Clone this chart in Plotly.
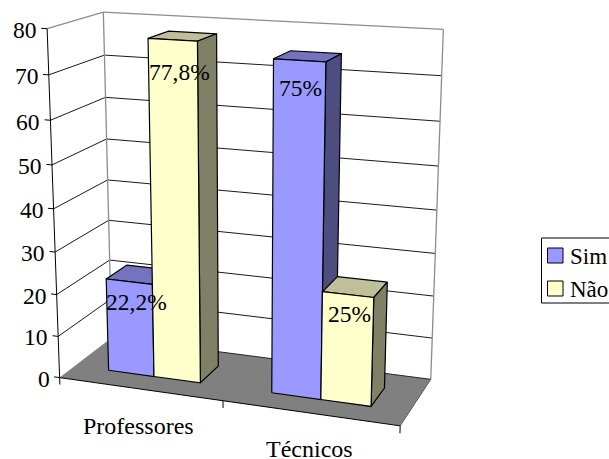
import numpy as np
import plotly.graph_objects as go

categories = ["Professores", "Técnicos"]
series_names = ["Sim", "Não"]
sim_values = [22.2, 75.0]
nao_values = [77.8, 25.0]
sim_labels = ["22,2%", "75%"]
nao_labels = ["77,8%", "25%"]
tick_values = [0, 10, 20, 30, 40, 50, 60, 70, 80]

WIDTH, HEIGHT = 609, 459
Z_MAX = 80

# Perspective camera for the 3-D column chart (rotation about 20 deg, elevation about 15 deg)
EYE = np.array([1.8614, -3.55323, 1.57708])
YAW, PITCH = 0.35014, 0.27222
FOCAL, CX, CY = 1487.49, 244.82, 220.27
DEPTH_SCALE = 0.35092

# Column layout inside each category slot and inside the floor depth
BAR_WIDTH = 0.286
FRONT, BACK = 0.2865, 0.6892

SIM_COLORS = ("#9999FF", "#7373BF", "#4D4D80")
NAO_COLORS = ("#FFFFCC", "#BFBF99", "#808066")
FLOOR_COLOR = "#808080"
WALL_EDGE = "#8C8C8C"
FONT = "Liberation Serif"
FONT_SIZE = 23.5

_n = np.array([-np.sin(YAW) * np.cos(PITCH), np.cos(YAW) * np.cos(PITCH), -np.sin(PITCH)])
_r = np.array([np.cos(YAW), np.sin(YAW), 0.0])
_t = np.cross(_r, _n)


def proj(x, y, z):
    """Project chart coordinates (category slot, depth, value) to the drawing plane."""
    p = np.array([x / 2, y * DEPTH_SCALE, z / Z_MAX]) - EYE
    d = p @ _n
    return CX + FOCAL * (p @ _r) / d, CY - FOCAL * (p @ _t) / d


fig = go.Figure()


def polygon(points, fill, edge=None, width=1.0):
    pts = [proj(*q) for q in points] + [proj(*points[0])]
    fig.add_trace(go.Scatter(
        x=[a for a, _ in pts], y=[b for _, b in pts], mode="lines", fill="toself", fillcolor=fill,
        line=dict(color=edge if edge else fill, width=width if edge else 0),
        hoverinfo="skip", showlegend=False))


def segments(pairs, color, width=1.0):
    xs, ys = [], []
    for a, b in pairs:
        pa, pb = proj(*a), proj(*b)
        xs += [pa[0], pb[0], None]
        ys += [pa[1], pb[1], None]
    fig.add_trace(go.Scatter(x=xs, y=ys, mode="lines", line=dict(color=color, width=width),
                             hoverinfo="skip", showlegend=False))


# Floor
polygon([(0, 0, 0), (2, 0, 0), (2, 1, 0), (0, 1, 0)], FLOOR_COLOR)

# Gridlines across the side and back walls
grid = []
for v in tick_values[1:-1]:
    grid += [((0, 0, v), (0, 1, v)), ((0, 1, v), (2, 1, v))]
segments(grid, "#1A1A1A", 1.0)
segments([((0, 0, Z_MAX), (0, 1, Z_MAX)), ((0, 1, Z_MAX), (2, 1, Z_MAX)),
          ((0, 1, 0), (0, 1, Z_MAX)), ((2, 1, 0), (2, 1, Z_MAX))], WALL_EDGE, 1.3)
segments([((0, 1, 0), (2, 1, 0))], "#262626", 1.0)
segments([((2, 0, 0), (2, 1, 0))], "#595959", 1.0)

# Axis lines and tick marks
axis = [((0, 0, 0), (0, 0, Z_MAX)), ((0, 0, 0), (2, 0, 0))]
axis += [((-0.035, 0, v), (0, 0, v)) for v in tick_values]
axis += [((t, 0, -1.7), (t, 0, 0)) for t in range(len(categories) + 1)]
segments(axis, "#000000", 1.0)


def column(x0, x1, h, colors):
    polygon([(x0, FRONT, h), (x1, FRONT, h), (x1, BACK, h), (x0, BACK, h)], colors[1], "#000000", 1.2)
    polygon([(x1, FRONT, 0), (x1, BACK, 0), (x1, BACK, h), (x1, FRONT, h)], colors[2], "#000000", 1.2)
    polygon([(x0, FRONT, 0), (x1, FRONT, 0), (x1, FRONT, h), (x0, FRONT, h)], colors[0], "#000000", 1.2)


for i in range(len(categories)):
    mid = i + 0.5
    column(mid - BAR_WIDTH, mid, sim_values[i], SIM_COLORS)
    column(mid, mid + BAR_WIDTH, nao_values[i], NAO_COLORS)


def text(x, y, s, size=FONT_SIZE, **kw):
    return dict(x=x, y=y, text=s, showarrow=False, xref="x", yref="y",
                font=dict(family=FONT, size=size, color="#000000"), **kw)


ann = []
for v in tick_values:
    px, py = proj(-0.05, 0, v)
    ann.append(text(px, py + 2, str(v), xanchor="right", yanchor="middle"))

cat_shift = [(-1, 37), (0, 36)]
for i, cat in enumerate(categories):
    px, py = proj(i + 0.5, 0, 0)
    ann.append(text(px + cat_shift[i][0], py + cat_shift[i][1], cat, size=24,
                    xanchor="center", yanchor="middle", height=20))

label_shift = {"sim": [(7, 20), (1, 28)], "nao": [(7, 32), (2, 19)]}
for i in range(len(categories)):
    mid = i + 0.5
    px, py = proj(mid - BAR_WIDTH / 2, FRONT, sim_values[i])
    dx, dy = label_shift["sim"][i]
    ann.append(text(px + dx, py + dy, sim_labels[i], xanchor="center", yanchor="middle"))
    px, py = proj(mid + BAR_WIDTH / 2, FRONT, nao_values[i])
    dx, dy = label_shift["nao"][i]
    ann.append(text(px + dx, py + dy, nao_labels[i], xanchor="center", yanchor="middle"))

# Legend box, open at the right where the canvas ends
shapes = [
    dict(type="rect", xref="x", yref="y", x0=541.5, x1=620, y0=238, y1=303,
         line=dict(color="#000000", width=1), fillcolor="#FFFFFF"),
    dict(type="rect", xref="x", yref="y", x0=547.5, x1=563, y0=248, y1=263,
         line=dict(color="#000000", width=1), fillcolor=SIM_COLORS[0]),
    dict(type="rect", xref="x", yref="y", x0=547.5, x1=563, y0=281, y1=296,
         line=dict(color="#000000", width=1), fillcolor=NAO_COLORS[0]),
]
ann.append(text(568, 256, series_names[0], size=23, xanchor="left", yanchor="middle"))
ann.append(text(568, 289, series_names[1], size=23, xanchor="left", yanchor="middle"))

fig.update_layout(
    width=WIDTH, height=HEIGHT, margin=dict(l=0, r=0, t=0, b=0), autosize=False,
    paper_bgcolor="#FFFFFF", plot_bgcolor="#FFFFFF", showlegend=False,
    xaxis=dict(range=[0, WIDTH], visible=False, fixedrange=True),
    yaxis=dict(range=[HEIGHT, 0], visible=False, fixedrange=True),
    shapes=shapes, annotations=ann)
fig.write_html("out.html")
